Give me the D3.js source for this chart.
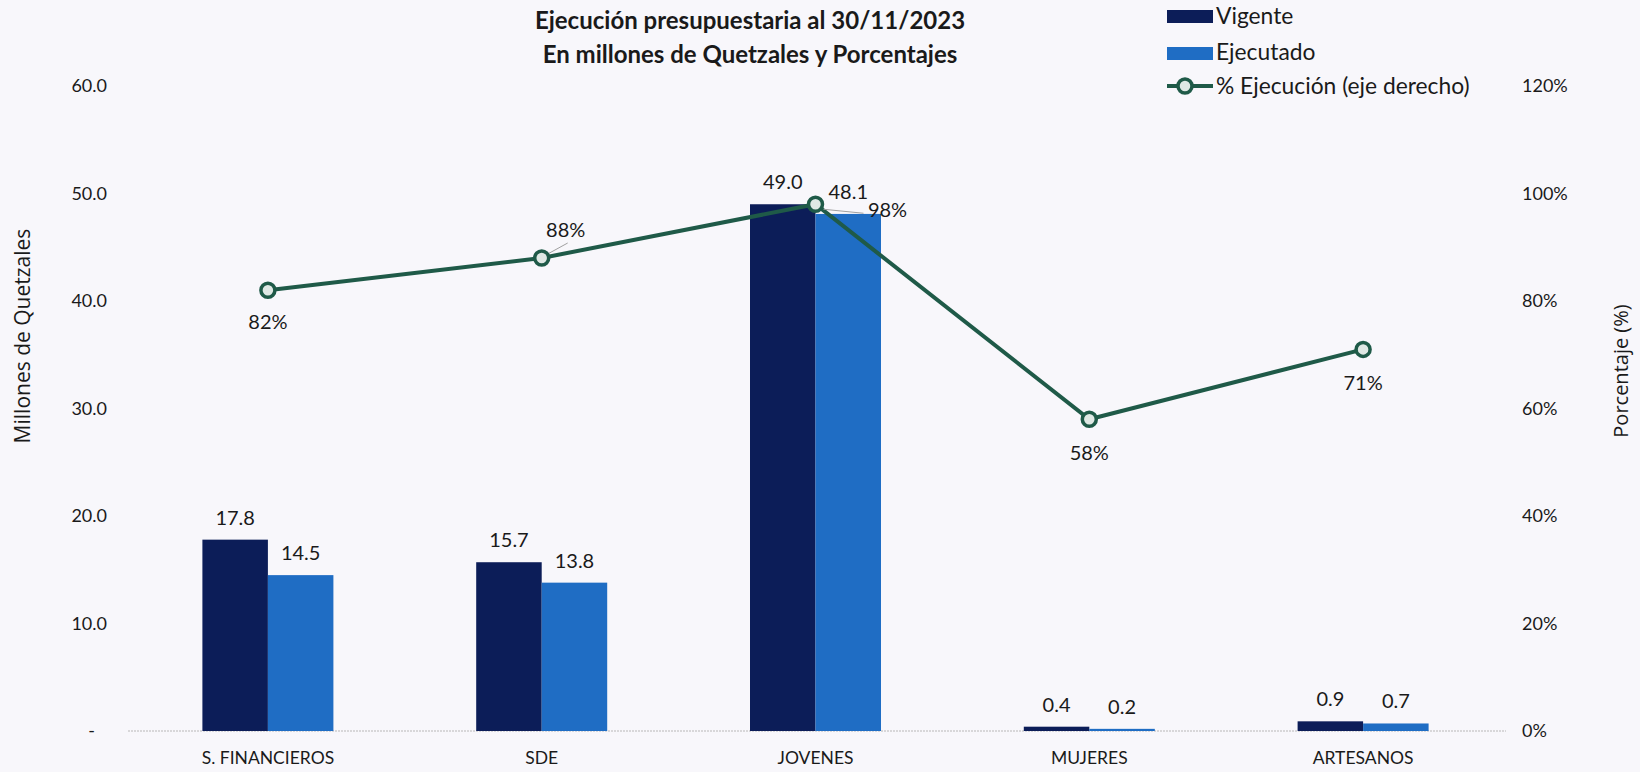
<!DOCTYPE html>
<meta charset="utf-8">
<script src="https://d3js.org/d3.v7.min.js"></script>
<style>
    body { margin: 0; background: #f8f7fb; }
    text { font-family: Lato, "Liberation Sans", sans-serif; fill: #1a1a1a; }
</style>
<body>
<div id="chart"></div>
<script>
    // data
    const categories = ["S. FINANCIEROS", "SDE", "JOVENES", "MUJERES", "ARTESANOS"];
    const vigente = [17.8, 15.7, 49.0, 0.4, 0.9];
    const ejecutado = [14.5, 13.8, 48.1, 0.2, 0.7];
    const pctEjecucion = [82, 88, 98, 58, 71];
    const leftTicks = [0, 10, 20, 30, 40, 50, 60];
    const rightTicks = [0, 20, 40, 60, 80, 100, 120];

    const W = 1640, H = 772;
    const margin = {top: 86, right: 140, bottom: 41, left: 131};
    const width = W - margin.left - margin.right,
        height = H - margin.top - margin.bottom;

    const NAVY = "#0c1d58", BLUE = "#1f6dc4", GREEN = "#1f5a48";

    const svg = d3.select("#chart").append("svg")
        .attr("width", W).attr("height", H);
    const g = svg.append("g")
        .attr("transform", "translate(" + margin.left + "," + margin.top + ")");

    const x = d3.scaleBand().domain(categories).range([0, width]);
    const xs = d3.scaleBand().domain(["v", "e"]).range([0, 131])
    const y = d3.scaleLinear().domain([0, 60]).range([height, 0]);
    const y2 = d3.scaleLinear().domain([0, 120]).range([height, 0]);

    // left axis
    const yAxis = g.append("g")
        .call(d3.axisLeft(y).tickValues(leftTicks).tickSize(0).tickPadding(24)
            .tickFormat(d => d === 0 ? "-" : d3.format(".1f")(d)));
    yAxis.select(".domain").remove();
    yAxis.selectAll("text").style("font-size", "18px").style("font-family", "Lato");
    // accounting style zero dash sits a bit in from the right edge
    yAxis.selectAll("text").filter(d => d === 0).attr("dx", -12);

    // right axis
    const y2Axis = g.append("g")
        .attr("transform", "translate(" + width + ",0)")
        .call(d3.axisRight(y2).tickValues(rightTicks).tickSize(0).tickPadding(22)
            .tickFormat(d => d + "%"));
    y2Axis.select(".domain").remove();
    y2Axis.selectAll("text").style("font-size", "18px").style("font-family", "Lato");

    // baseline
    g.append("line")
        .attr("x1", -3).attr("x2", width + 6)
        .attr("y1", y(0)).attr("y2", y(0))
        .attr("stroke", "#b8b8b8").attr("stroke-width", 1.2)
        .attr("stroke-dasharray", "2,1");

    // category labels
    const xAxis = g.append("g")
        .attr("transform", "translate(0," + height + ")")
        .call(d3.axisBottom(x).tickSize(0).tickPadding(21));
    xAxis.select(".domain").remove();
    xAxis.selectAll("text").style("font-size", "17.5px").style("font-family", "Lato");

    // bars
    const groups = g.selectAll(".grp").data(categories).enter().append("g")
        .attr("transform", d => "translate(" + (x(d) + x.bandwidth() / 2 - 65.5) + ",0)");

    groups.append("rect")
        .attr("x", xs("v")).attr("width", xs.bandwidth())
        .attr("y", (d, i) => y(vigente[i]))
        .attr("height", (d, i) => y(0) - y(vigente[i]))
        .attr("fill", NAVY);
    groups.append("rect")
        .attr("x", xs("e")).attr("width", xs.bandwidth())
        .attr("y", (d, i) => y(ejecutado[i]))
        .attr("height", (d, i) => y(0) - y(ejecutado[i]))
        .attr("fill", BLUE);

    groups.append("text")
        .attr("x", xs("v") + xs.bandwidth() / 2)
        .attr("y", (d, i) => y(vigente[i]) - 15)
        .attr("text-anchor", "middle").style("font-size", "20px")
        .text((d, i) => vigente[i].toFixed(1));
    groups.append("text")
        .attr("x", xs("e") + xs.bandwidth() / 2)
        .attr("y", (d, i) => y(ejecutado[i]) - 15)
        .attr("text-anchor", "middle").style("font-size", "20px")
        .text((d, i) => ejecutado[i].toFixed(1));

    // percentage line
    const cx = d => x(d) + x.bandwidth() / 2;
    const line = d3.line()
        .x((d, i) => cx(categories[i]))
        .y(d => y2(d));
    g.append("path").datum(pctEjecucion)
        .attr("d", line).attr("fill", "none")
        .attr("stroke", GREEN).attr("stroke-width", 4);

    // leader lines for 88% and 98%
    g.append("line")
        .attr("x1", cx("SDE") + 6).attr("y1", y2(88) - 4)
        .attr("x2", cx("SDE") + 26).attr("y2", y2(88) - 15)
        .attr("stroke", "#a0a0a0").attr("stroke-width", 1);
    g.append("line")
        .attr("x1", cx("JOVENES") + 8).attr("y1", y2(98) + 5)
        .attr("x2", cx("JOVENES") + 48).attr("y2", y2(98) + 9)
        .attr("stroke", "#a0a0a0").attr("stroke-width", 1);

    g.selectAll(".pt").data(pctEjecucion).enter().append("circle")
        .attr("cx", (d, i) => cx(categories[i]))
        .attr("cy", d => y2(d))
        .attr("r", 7)
        .attr("fill", "#dfe8e4").attr("stroke", GREEN).attr("stroke-width", 3.5);

    // percentage labels: offsets per point as placed in the chart
    const pctDx = [0, 24, 72, 0, 0];
    const pctDy = [39, -21, 13, 41, 41];
    g.selectAll(".pl").data(pctEjecucion).enter().append("text")
        .attr("x", (d, i) => cx(categories[i]) + pctDx[i])
        .attr("y", (d, i) => y2(d) + pctDy[i])
        .attr("text-anchor", "middle").style("font-size", "20px")
        .text(d => d + "%");

    // titles
    svg.append("text")
        .attr("x", 750).attr("y", 29)
        .attr("text-anchor", "middle").style("font-size", "24px").style("font-weight", "bold")
        .text("Ejecución presupuestaria al 30/11/2023");
    svg.append("text")
        .attr("x", 750).attr("y", 63)
        .attr("text-anchor", "middle").style("font-size", "24px").style("font-weight", "bold")
        .text("En millones de Quetzales y Porcentajes");

    svg.append("text")
        .attr("transform", "translate(30,336) rotate(-90)")
        .attr("text-anchor", "middle")
        .style("font-family", "'Open Sans'").style("font-size", "21px")
        .text("Millones de Quetzales");
    svg.append("text")
        .attr("transform", "translate(1628,371) rotate(-90)")
        .attr("text-anchor", "middle")
        .style("font-family", "'Open Sans'").style("font-size", "20px")
        .text("Porcentaje (%)");

    // legend
    const legend = svg.append("g").attr("transform", "translate(1167,0)");
    legend.append("rect").attr("x", 0).attr("y", 10).attr("width", 46).attr("height", 13).attr("fill", NAVY);
    legend.append("rect").attr("x", 0).attr("y", 47).attr("width", 46).attr("height", 13).attr("fill", BLUE);
    legend.append("line").attr("x1", 0).attr("x2", 46).attr("y1", 86).attr("y2", 86)
        .attr("stroke", GREEN).attr("stroke-width", 4);
    legend.append("circle").attr("cx", 18).attr("cy", 86).attr("r", 7)
        .attr("fill", "#dfe8e4").attr("stroke", GREEN).attr("stroke-width", 3.5);
    const legText = ["Vigente", "Ejecutado", "% Ejecución (eje derecho)"];
    const legY = [24, 60, 94];
    legend.selectAll(".lt").data(legText).enter().append("text")
        .attr("x", 49).attr("y", (d, i) => legY[i])
        .style("font-size", "22.8px")
        .text(d => d);
</script>
</body>
